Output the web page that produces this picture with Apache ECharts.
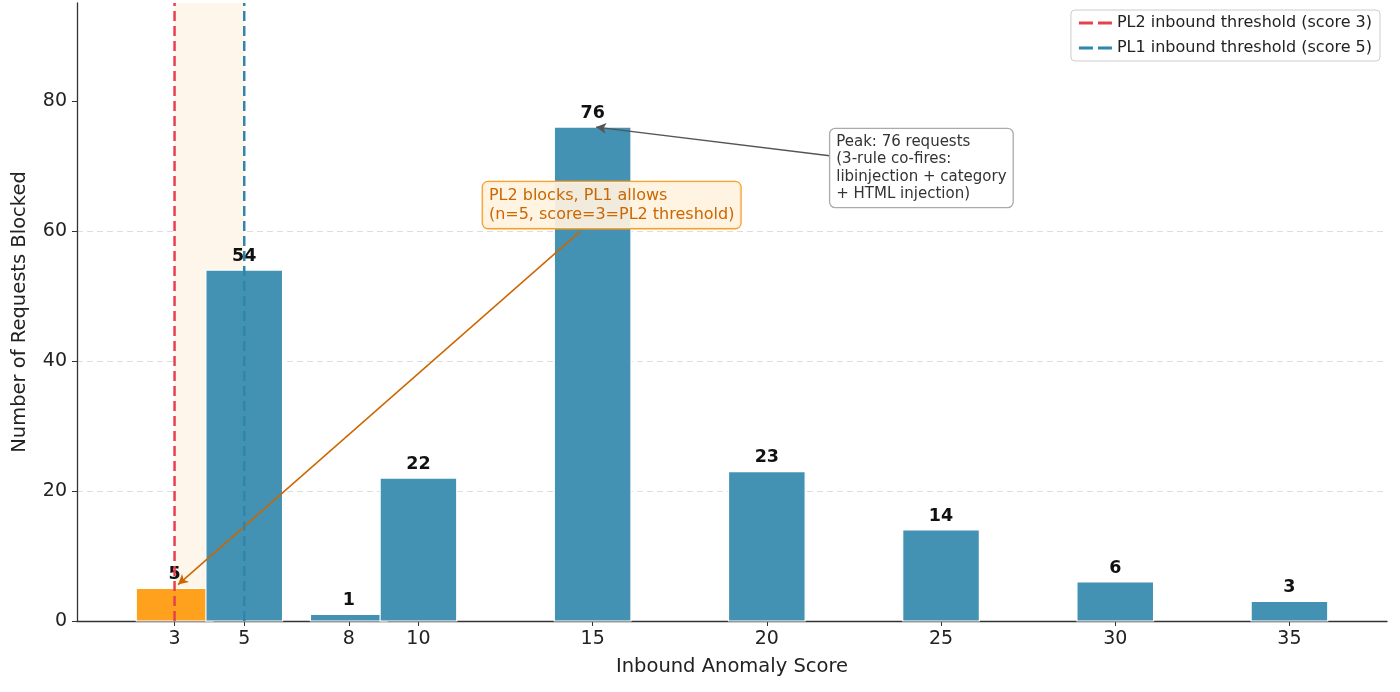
<!DOCTYPE html>
<html>
<head>
<meta charset="utf-8">
<script src="https://cdn.jsdelivr.net/npm/echarts@6/dist/echarts.min.js"></script>
<style>
  html, body { margin: 0; padding: 0; background: #fff; }
  #chart { width: 1400px; height: 692px; }
</style>
</head>
<body>
<div id="chart"></div>
<script>
// data
var scores = [3, 5, 8, 10, 15, 20, 25, 30, 35];
var counts = [5, 54, 1, 22, 76, 23, 14, 6, 3];
var xTicks = [3, 5, 8, 10, 15, 20, 25, 30, 35];
var yTicks = [0, 20, 40, 60, 80];
var pl2Threshold = 3;
var pl1Threshold = 5;
var peakPoint = [15.1, 76];
var peakText = [21.82, 69.7];
var peakArrowFrom = [21.8, 71.6];
var pl2Point = [3.1, 5.6];
var pl2Text = [11.85, 64];
var pl2ArrowFrom = [14.65, 60];

var barWidth = 2.2;
var yMax = 95.1;
var blue = '#4392B3';
var orange = '#FFA11C';
var FONT = 'DejaVu Sans';
var dashIcon = 'path://M0,0H14V3H0Z M19,0H33V3H19Z';

var chart = echarts.init(document.getElementById('chart'));

var option = {
  animation: false,
  textStyle: { fontFamily: FONT },
  grid: { left: 77, right: 13, top: 3, bottom: 71 },
  legend: {
    orient: 'vertical',
    right: 20,
    top: 10,
    itemWidth: 33,
    itemHeight: 3,
    itemGap: 9,
    padding: [5, 8],
    borderColor: '#cccccc',
    borderWidth: 1,
    borderRadius: 4,
    textStyle: { fontFamily: FONT, fontSize: 16, color: '#222' },
    data: [
      { name: 'PL2 inbound threshold (score 3)', icon: dashIcon },
      { name: 'PL1 inbound threshold (score 5)', icon: dashIcon }
    ]
  },
  xAxis: {
    type: 'value',
    min: 0.2,
    max: 37.8,
    name: 'Inbound Anomaly Score',
    nameLocation: 'middle',
    nameGap: 36,
    nameTextStyle: { fontFamily: FONT, fontSize: 19.5, color: '#222' },
    axisLine: { lineStyle: { color: '#333', width: 1.3 } },
    axisTick: { show: true, customValues: xTicks, length: 5, lineStyle: { color: '#333' } },
    axisLabel: { customValues: xTicks, fontFamily: FONT, fontSize: 19, color: '#222', margin: 9 },
    splitLine: { show: false }
  },
  yAxis: {
    type: 'value',
    min: 0,
    max: yMax,
    interval: 20,
    name: 'Number of Requests Blocked',
    nameLocation: 'middle',
    nameGap: 47,
    nameTextStyle: { fontFamily: FONT, fontSize: 19.5, color: '#222' },
    axisLine: { show: true, lineStyle: { color: '#333', width: 1.3 } },
    axisTick: { show: true, customValues: yTicks, length: 5, lineStyle: { color: '#333' } },
    axisLabel: { customValues: yTicks, fontFamily: FONT, fontSize: 19, color: '#222', margin: 10 },
    splitLine: {
      show: true,
      showMinLine: false,
      showMaxLine: false,
      lineStyle: { color: '#dddddd', type: [6, 4], width: 1 }
    }
  },
  series: [
    {
      // zone between the two thresholds
      type: 'custom',
      z: 1,
      silent: true,
      data: [[pl2Threshold, pl1Threshold]],
      renderItem: function (params, api) {
        var a = api.coord([api.value(0), yMax]);
        var b = api.coord([api.value(1), 0]);
        return {
          type: 'rect',
          shape: { x: a[0], y: a[1], width: b[0] - a[0], height: b[1] - a[1] },
          style: { fill: '#FEF5EB' }
        };
      }
    },
    {
      type: 'custom',
      z: 3,
      silent: true,
      data: scores.map(function (s, i) { return [s, counts[i]]; }),
      renderItem: function (params, api) {
        var x = api.value(0), y = api.value(1);
        var p0 = api.coord([x - barWidth / 2, y]);
        var p1 = api.coord([x + barWidth / 2, 0]);
        return {
          type: 'group',
          children: [
            {
              type: 'rect',
              shape: { x: p0[0], y: p0[1], width: p1[0] - p0[0], height: p1[1] - p0[1] },
              style: { fill: x === pl2Threshold ? orange : blue, stroke: '#ffffff', lineWidth: 1.2 }
            },
            {
              type: 'text',
              z2: 10,
              style: {
                text: String(y),
                x: (p0[0] + p1[0]) / 2,
                y: p0[1] - 5,
                align: 'center',
                verticalAlign: 'bottom',
                font: 'bold 17.5px "DejaVu Sans"',
                fill: '#111'
              }
            }
          ]
        };
      }
    },
    {
      name: 'PL2 inbound threshold (score 3)',
      type: 'line',
      z: 5,
      silent: true,
      symbol: 'none',
      data: [[pl2Threshold, 0], [pl2Threshold, yMax]],
      lineStyle: { color: '#E5414F', width: 2.5, type: [10, 5] },
      itemStyle: { color: '#E5414F' },
      markLine: {
        silent: true,
        symbol: ['none', 'arrow'],
        symbolSize: [8, 10],
        label: { show: false },
        lineStyle: { color: '#CC6600', width: 1.5, type: 'solid' },
        data: [[{ coord: pl2ArrowFrom }, { coord: pl2Point }]]
      },
      markPoint: {
        silent: true,
        symbol: 'circle',
        symbolSize: 0,
        data: [{ coord: pl2Text, value: 0 }],
        label: {
          show: true,
          position: 'right',
          distance: 0,
          formatter: 'PL2 blocks, PL1 allows\n(n=5, score=3=PL2 threshold)',
          fontFamily: FONT,
          fontSize: 16,
          lineHeight: 19,
          color: '#CC6600',
          backgroundColor: 'rgba(255,243,224,0.92)',
          borderColor: '#F5A030',
          borderWidth: 1.3,
          borderRadius: 5,
          padding: [4, 6]
        }
      }
    },
    {
      name: 'PL1 inbound threshold (score 5)',
      type: 'line',
      z: 5,
      silent: true,
      symbol: 'none',
      data: [[pl1Threshold, 0], [pl1Threshold, yMax]],
      lineStyle: { color: '#2E86AB', width: 2.5, type: [10, 5] },
      itemStyle: { color: '#2E86AB' },
      markLine: {
        silent: true,
        symbol: ['none', 'arrow'],
        symbolSize: [8, 10],
        label: { show: false },
        lineStyle: { color: '#555555', width: 1.5, type: 'solid' },
        data: [[{ coord: peakArrowFrom }, { coord: peakPoint }]]
      },
      markPoint: {
        silent: true,
        symbol: 'circle',
        symbolSize: 0,
        data: [{ coord: peakText, value: 0 }],
        label: {
          show: true,
          position: 'right',
          distance: 0,
          formatter: 'Peak: 76 requests\n(3-rule co-fires:\nlibinjection + category\n+ HTML injection)',
          fontFamily: FONT,
          fontSize: 15,
          lineHeight: 17.5,
          color: '#333',
          backgroundColor: '#ffffff',
          borderColor: '#aaaaaa',
          borderWidth: 1.3,
          borderRadius: 5,
          padding: [4, 6]
        }
      }
    }
  ]
};

chart.setOption(option);
</script>
</body>
</html>
